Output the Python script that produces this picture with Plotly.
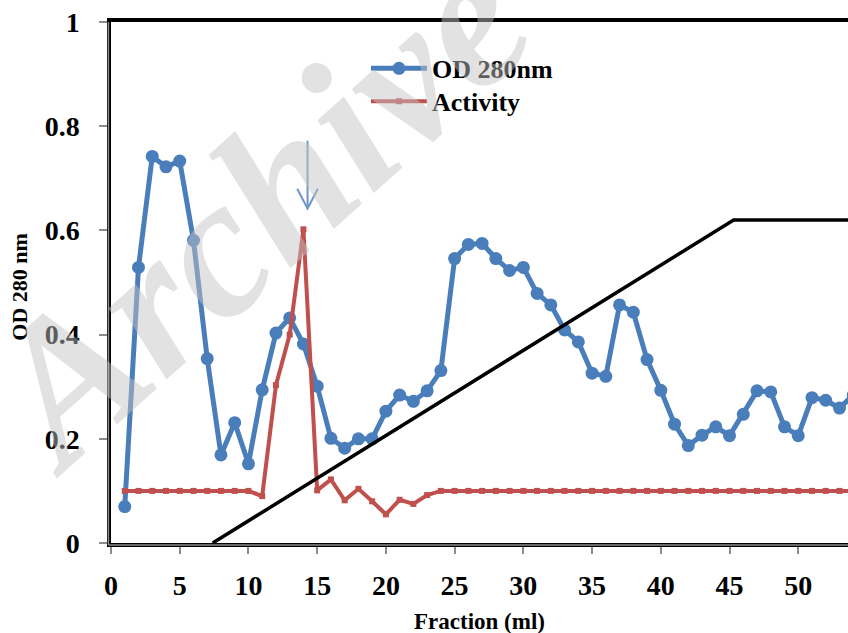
import plotly.graph_objects as go

# ---- data ----
fractions = list(range(1, 55))
od280 = [0.07, 0.529, 0.742, 0.722, 0.733, 0.581, 0.354, 0.169, 0.231, 0.152,
         0.294, 0.403, 0.432, 0.382, 0.301, 0.201, 0.182, 0.200, 0.200, 0.253,
         0.284, 0.272, 0.292, 0.331, 0.546, 0.573, 0.575, 0.546, 0.523, 0.529,
         0.479, 0.457, 0.409, 0.386, 0.326, 0.320, 0.457, 0.443, 0.352, 0.293,
         0.228, 0.187, 0.207, 0.223, 0.206, 0.247, 0.292, 0.290, 0.223, 0.206,
         0.279, 0.274, 0.259, 0.284]
activity = [0.1] * 10 + [0.09, 0.303, 0.40, 0.602, 0.101, 0.122, 0.082, 0.104,
                         0.08, 0.055, 0.083, 0.075, 0.092, 0.1] + [0.1] * 30
gradient_x = [7.4, 45.3, 60]
gradient_y = [0.0, 0.62, 0.62]
arrow_x = 14.3
arrow_top = 0.772
arrow_tip = 0.642
x_ticks = [0, 5, 10, 15, 20, 25, 30, 35, 40, 45, 50]
y_ticks = [0, 0.2, 0.4, 0.6, 0.8, 1]
y_ticklabels = ["0", "0.2", "0.4", "0.6", "0.8", "1"]

BLUE = "#4A7EBB"
RED = "#C0504D"
FONT = "Liberation Serif"
LEG_FONT = dict(family=FONT, size=26, weight="bold", color="black")

fig = go.Figure()
fig.add_trace(go.Scatter(
    x=fractions, y=od280, name="OD 280nm", mode="lines+markers",
    line=dict(color=BLUE, width=5), marker=dict(color=BLUE, size=13),
    cliponaxis=True, legend="legend"))
fig.add_trace(go.Scatter(
    x=fractions, y=activity, name="Activity", mode="lines+markers",
    line=dict(color=RED, width=4), marker=dict(color=RED, size=6, symbol="square"),
    cliponaxis=True, legend="legend2"))
fig.add_trace(go.Scatter(
    x=gradient_x, y=gradient_y, mode="lines", showlegend=False,
    line=dict(color="black", width=3.5), cliponaxis=True))

# arrow (open V head) marking active fraction
fig.add_shape(type="line", xref="x", yref="y", x0=arrow_x, x1=arrow_x,
              y0=arrow_top, y1=arrow_tip, line=dict(color="#6E97C8", width=2))
fig.add_shape(type="path", xref="x", yref="y",
              path=f"M{arrow_x-0.75},{arrow_tip+0.038} L{arrow_x},{arrow_tip} L{arrow_x+0.75},{arrow_tip+0.038}",
              line=dict(color="#6E97C8", width=2))

# double-line look on left and bottom axes
fig.add_shape(type="line", xref="paper", yref="paper", x0=-0.0035, x1=-0.0035,
              y0=-0.004, y1=1, line=dict(color="#8C8C8C", width=1.5))
fig.add_shape(type="line", xref="paper", yref="paper", x0=-0.0035, x1=1,
              y0=-0.004, y1=-0.004, line=dict(color="#8C8C8C", width=1.5))

fig.update_layout(
    width=848, height=633,
    margin=dict(l=111, r=0, t=22, b=90, autoexpand=False),
    paper_bgcolor="white", plot_bgcolor="white",
    font=dict(family=FONT, color="black"),
    showlegend=True,
    legend=dict(x=0.346, y=0.956, xanchor="left", yanchor="top",
                bgcolor="rgba(0,0,0,0)", itemwidth=56, font=LEG_FONT),
    legend2=dict(x=0.346, y=0.893, xanchor="left", yanchor="top",
                 bgcolor="rgba(0,0,0,0)", itemwidth=56, font=LEG_FONT),
    xaxis=dict(range=[0, 53.62], tickvals=x_ticks, showgrid=False, zeroline=False,
               automargin=False,
               showline=True, linecolor="black", linewidth=3.5, mirror=True,
               ticks="outside", ticklen=7, tickwidth=1.5, tickcolor="#8C8C8C",
               tickfont=dict(family=FONT, size=28, weight="bold"),
               ticklabelstandoff=8),
    yaxis=dict(range=[0, 1], tickvals=y_ticks, ticktext=y_ticklabels,
               showgrid=False, zeroline=False, automargin=False,
               showline=True, linecolor="black", linewidth=3.5, mirror=True,
               ticks="outside", ticklen=8, tickwidth=1.5, tickcolor="#8C8C8C",
               tickfont=dict(family=FONT, size=28, weight="bold"),
               ticklabelstandoff=14),
    annotations=[
        dict(text="Fraction (ml)", xref="paper", yref="paper", x=0.5, y=-0.151,
             xanchor="center", yanchor="middle", showarrow=False,
             font=dict(family=FONT, size=23, weight="bold", color="black")),
        dict(text="OD 280 nm", xref="paper", yref="paper", x=-0.1235, y=0.492,
             xanchor="center", yanchor="middle", showarrow=False, textangle=-90,
             font=dict(family=FONT, size=22, weight="bold", color="black")),
        dict(text="<b><i>Archive</i></b>", xref="paper", yref="paper", x=0.195, y=0.64,
             xanchor="center", yanchor="middle", showarrow=False, textangle=-42,
             font=dict(family=FONT, size=200, style="italic", weight="bold",
                       color="rgba(195,195,195,0.48)")),
    ],
)

fig.write_html(
    "out.html",
    config={"displayModeBar": False},
    post_script="document.body.style.margin='0';document.body.style.overflow='hidden';",
)
